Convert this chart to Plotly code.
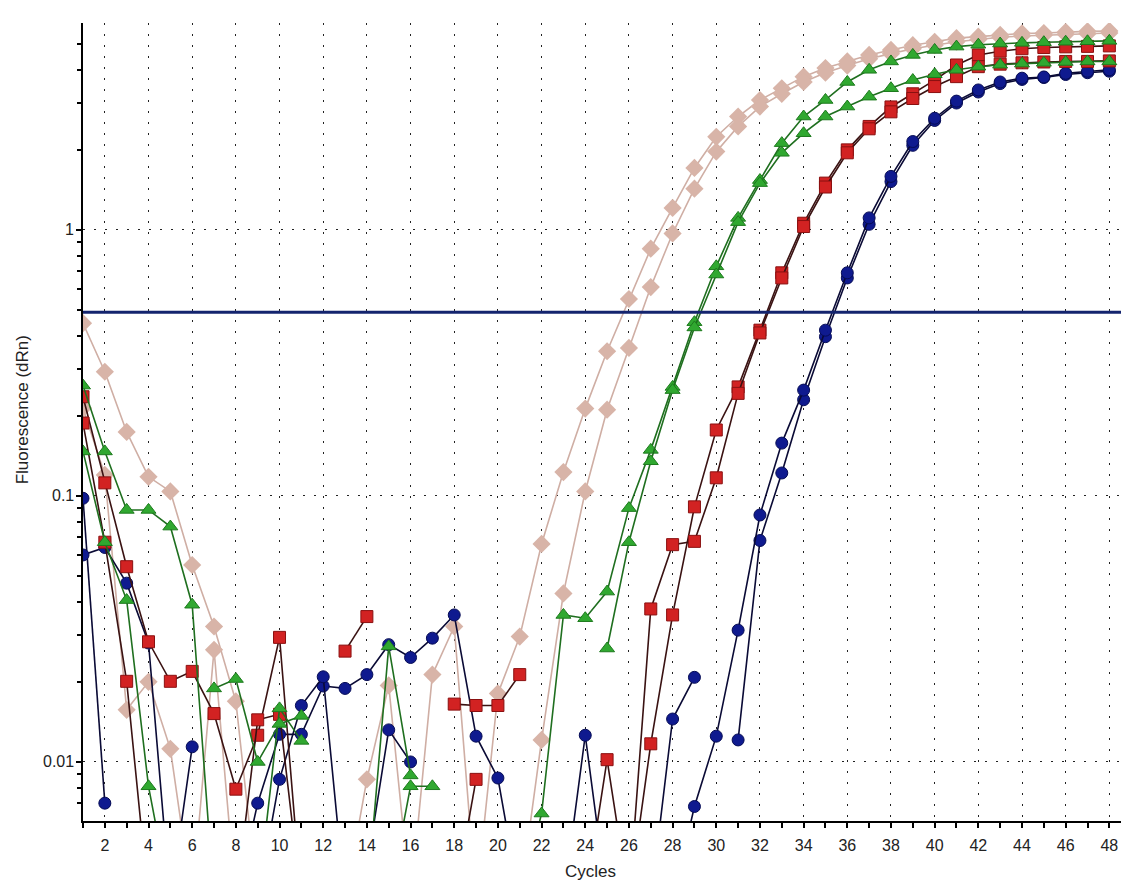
import math
import plotly.graph_objects as go

N = None
cycles = list(range(1, 49))

pink_a = [0.446, 0.293, 0.174, 0.118, 0.104, 0.055, 0.0323, 0.0169, 0.003, N,
          N, N, 0.003, 0.0086, 0.0194, 0.003, N, N, 0.003, 0.0181,
          0.0296, 0.066, 0.123, 0.213, 0.35, 0.55, 0.85, 1.21, 1.71, 2.24,
          2.67, 3.08, 3.41, 3.77, 4.06, 4.30, 4.55, 4.75, 4.95, 5.10,
          5.26, 5.33, 5.41, 5.48, 5.50, 5.55, 5.58, 5.60]
pink_b = [0.214, 0.12, 0.0157, 0.020, 0.0112, 0.003, 0.0264, 0.003, N, N,
          N, N, N, N, N, 0.003, 0.0213, 0.0323, 0.003, N,
          0.003, 0.0121, 0.043, 0.104, 0.211, 0.36, 0.61, 0.97, 1.43, 1.97,
          2.45, 2.91, 3.25, 3.60, 3.90, 4.15, 4.40, 4.60, 4.80, 4.95,
          5.10, 5.20, 5.30, 5.36, 5.40, 5.44, 5.47, 5.50]
green_a = [0.26, 0.147, 0.0886, 0.0886, 0.0767, 0.039, 0.003, N, 0.003, 0.0159,
           0.012, N, N, 0.003, 0.0272, 0.0089, N, N, N, N,
           0.003, 0.0064, 0.0357, 0.0347, 0.0437, 0.090, 0.149, 0.257, 0.45, 0.73,
           1.11, 1.54, 2.12, 2.67, 3.08, 3.60, 4.00, 4.30, 4.55, 4.75,
           4.89, 4.97, 5.02, 5.05, 5.08, 5.10, 5.12, 5.14]
green_b = [0.147, 0.067, 0.0406, 0.0081, 0.003, N, 0.0189, 0.0205, 0.0100, 0.0139,
           0.0149, N, N, N, 0.003, 0.0081, 0.0081, N, N, N,
           N, N, N, N, 0.0267, 0.067, 0.135, 0.25, 0.43, 0.68,
           1.07, 1.50, 1.95, 2.31, 2.67, 2.91, 3.17, 3.41, 3.66, 3.85,
           4.00, 4.11, 4.18, 4.22, 4.25, 4.28, 4.30, 4.30]
red_a = [0.236, 0.112, 0.0542, 0.0283, 0.0201, 0.0219, 0.0152, 0.0079, 0.0126, 0.0294,
         0.003, N, N, N, N, N, N, 0.003, 0.0086, N,
         N, N, N, 0.003, 0.0102, 0.003, 0.0117, 0.0357, 0.091, 0.177,
         0.257, 0.42, 0.69, 1.06, 1.50, 2.00, 2.45, 2.90, 3.25, 3.66,
         4.17, 4.55, 4.70, 4.80, 4.85, 4.88, 4.90, 4.92]
red_b = [0.188, 0.067, 0.0201, 0.003, N, N, N, 0.003, 0.0144, 0.0151,
         0.003, N, 0.0261, 0.0352, N, N, N, 0.0165, 0.0163, 0.0163,
         0.0213, N, N, N, N, 0.003, 0.0376, 0.0656, 0.0675, 0.117,
         0.243, 0.41, 0.66, 1.03, 1.45, 1.95, 2.40, 2.78, 3.12, 3.46,
         3.77, 4.11, 4.20, 4.25, 4.28, 4.30, 4.30, 4.32]
blue_a = [0.098, 0.0070, N, N, N, N, N, 0.003, 0.0070, 0.0127,
          0.0127, 0.0193, 0.0189, 0.0213, 0.0276, 0.0247, 0.0292, 0.0357, 0.0125, 0.0087,
          0.003, N, 0.003, 0.0126, 0.003, N, 0.003, 0.0145, 0.0208, N,
          0.0121, 0.068, 0.122, 0.23, 0.397, 0.66, 1.05, 1.52, 2.08, 2.58,
          3.00, 3.30, 3.55, 3.68, 3.74, 3.84, 3.90, 3.95]
blue_b = [0.06, 0.064, 0.047, 0.028, 0.003, 0.0114, N, N, 0.003, 0.0086,
          0.0163, 0.0209, 0.003, 0.004, 0.0132, 0.0100, N, N, N, N,
          N, N, N, N, N, N, N, 0.003, 0.0068, 0.0125,
          0.0313, 0.0848, 0.158, 0.25, 0.42, 0.69, 1.11, 1.59, 2.15, 2.63,
          3.05, 3.36, 3.60, 3.72, 3.76, 3.88, 3.95, 4.00]

threshold = 0.49
x_ticks = list(range(2, 49, 2))
x_minor = list(range(1, 50, 2))
y_ticks = [0.01, 0.1, 1]
y_tick_text = ["0.01", "0.1", "1"]
y_minor = [0.007, 0.008, 0.009, 0.02, 0.03, 0.04, 0.05, 0.06, 0.07, 0.08, 0.09,
           0.2, 0.3, 0.4, 0.5, 0.6, 0.7, 0.8, 0.9, 2, 3, 4, 5]

fig = go.Figure()

styles = [
    (pink_a, "#cfaea4", dict(symbol="diamond", size=14, color="#d8b4a8", line=dict(width=0))),
    (pink_b, "#cfaea4", dict(symbol="diamond", size=14, color="#d8b4a8", line=dict(width=0))),
    (blue_a, "#0a0a35", dict(symbol="circle", size=12, color="#0f1a8f", line=dict(width=1, color="#060c55"))),
    (blue_b, "#0a0a35", dict(symbol="circle", size=12, color="#0f1a8f", line=dict(width=1, color="#060c55"))),
    (red_a, "#3a1212", dict(symbol="square", size=12, color="#d22222", line=dict(width=1, color="#8a1010"))),
    (red_b, "#3a1212", dict(symbol="square", size=12, color="#d22222", line=dict(width=1, color="#8a1010"))),
    (green_a, "#1f6f1f", dict(symbol="triangle-up", size=13, color="#30a830", line=dict(width=1, color="#1d7a1d"))),
    (green_b, "#1f6f1f", dict(symbol="triangle-up", size=13, color="#30a830", line=dict(width=1, color="#1d7a1d"))),
]
for vals, lc, mk in styles:
    fig.add_trace(go.Scatter(x=cycles, y=vals, mode="lines+markers",
                             line=dict(color=lc, width=1.6), marker=mk,
                             connectgaps=False, showlegend=False))

fig.add_trace(go.Scatter(x=[1, 48.9], y=[threshold, threshold], mode="lines",
                         line=dict(color="#14246e", width=3), showlegend=False))

annotations = [
    dict(text="Fluorescence (dRn)", textangle=-90, xref="paper", yref="paper",
         x=-0.058, y=0.515, xanchor="center", yanchor="middle", showarrow=False,
         font=dict(size=17, color="#222")),
    dict(text="Cycles", xref="paper", yref="paper", x=0.485, y=-0.063,
         xanchor="center", yanchor="middle", showarrow=False,
         font=dict(size=17, color="#222")),
]
for v, t in zip(y_ticks, y_tick_text):
    annotations.append(dict(text=t, xref="paper", yref="y", x=-0.007, y=math.log10(v),
                            xanchor="right", yanchor="middle", showarrow=False,
                            font=dict(size=16, color="#222")))

fig.update_layout(
    width=1121, height=873,
    margin=dict(l=75, r=0, t=15, b=60),
    paper_bgcolor="white", plot_bgcolor="white",
    font=dict(family="Liberation Sans, Arial, sans-serif", size=16, color="#222"),
    annotations=annotations,
)
fig.update_xaxes(range=[1, 48.9], tickvals=x_ticks, ticks="outside", ticklen=5,
                 tickwidth=1.5, tickcolor="black", ticklabelstandoff=4,
                 showline=True, linecolor="black", linewidth=2,
                 showgrid=True, gridcolor="#222", gridwidth=1, griddash="2px,9px",
                 zeroline=False,
                 minor=dict(tickvals=x_minor, ticks="outside", ticklen=5, tickcolor="black",
                            showgrid=False))
fig.update_yaxes(type="log", range=[-2.222, 0.778], tickvals=y_ticks, showticklabels=False,
                 ticks="outside", ticklen=5, tickwidth=1.5, tickcolor="black",
                 showline=True, linecolor="black", linewidth=2,
                 showgrid=True, gridcolor="#222", gridwidth=1, griddash="2px,9px",
                 zeroline=False,
                 minor=dict(tickvals=y_minor, ticks="outside", ticklen=4, tickcolor="black",
                            showgrid=False))

fig.write_html("out.html")
